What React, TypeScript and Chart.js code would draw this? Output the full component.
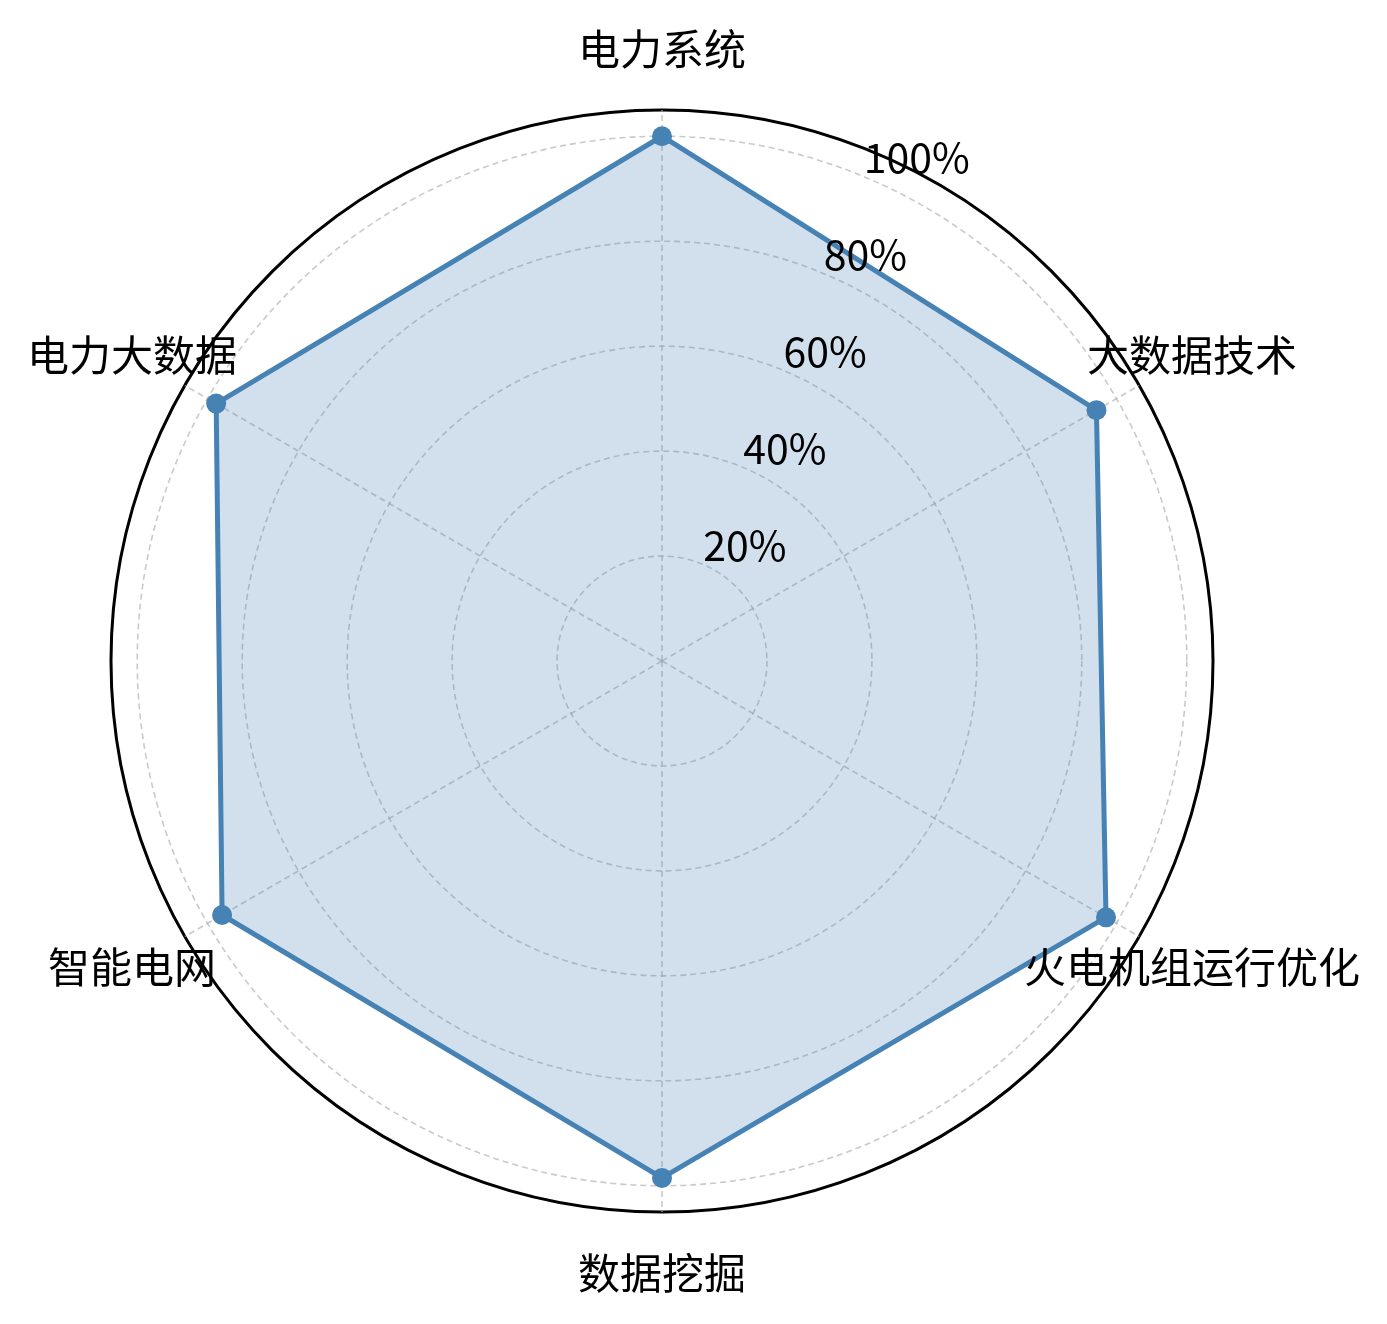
import { useEffect, useRef } from 'react';
import { Chart, registerables } from 'chart.js';

Chart.register(...registerables);

const categories = ['电力系统', '大数据技术', '火电机组运行优化', '数据挖掘', '智能电网', '电力大数据'];
const coverage = [100, 95.6, 97.7, 98.5, 96.8, 98.1];
const tickValues = [20, 40, 60, 80, 100];
const tickLabels = ['20%', '40%', '60%', '80%', '100%'];
const rMax = 105;
const labelRadiusValue = 116.6;

const FONT = '"Noto Sans CJK SC", "Noto Sans", sans-serif';

// matplotlib-ish polar decorations: r labels at 22.5deg, category labels centered outside
const polarText = {
  id: 'polarText',
  afterDraw(chart: Chart) {
    const scale: any = chart.scales.r;
    const ctx = chart.ctx;
    const ang = (22.5 * Math.PI) / 180;
    ctx.save();
    ctx.fillStyle = '#000';
    ctx.font = `41px ${FONT}`;
    ctx.textAlign = 'left';
    ctx.textBaseline = 'bottom';
    tickValues.forEach((v, i) => {
      const r = scale.getDistanceFromCenterForValue(v);
      const x = scale.xCenter + r * Math.sin(ang);
      const y = scale.yCenter - r * Math.cos(ang);
      ctx.fillText(tickLabels[i], x + 1, y + 2);
    });

    const dist = scale.getDistanceFromCenterForValue(labelRadiusValue);
    ctx.font = `42px ${FONT}`;
    ctx.textAlign = 'center';
    ctx.textBaseline = 'middle';
    categories.forEach((c, i) => {
      const p = scale.getPointPosition(i, dist);
      ctx.fillText(c, p.x, p.y);
    });
    ctx.restore();
  },
};

const RadarChart = () => {
  const canvasRef = useRef<HTMLCanvasElement | null>(null);

  useEffect(() => {
    if (!canvasRef.current) return;
    const ctx = canvasRef.current.getContext('2d');
    if (!ctx) return;

    const chart = new Chart(ctx, {
      type: 'radar',
      data: {
        labels: categories,
        datasets: [
          {
            data: coverage,
            borderColor: '#4682B4',
            backgroundColor: 'rgba(70, 130, 180, 0.25)',
            borderWidth: 5,
            fill: true,
            tension: 0,
            pointRadius: 10,
            pointBackgroundColor: '#4682B4',
            pointBorderWidth: 0,
          },
        ],
      },
      options: {
        responsive: false,
        animation: false,
        devicePixelRatio: 1,
        layout: { padding: { left: 111, right: 174, top: 110, bottom: 112 } },
        plugins: { legend: { display: false }, tooltip: { enabled: false } },
        scales: {
          r: {
            min: 0,
            max: rMax,
            startAngle: 0,
            afterBuildTicks: (scale: any) => {
              scale.ticks = [0, ...tickValues, rMax].map((v) => ({ value: v }));
            },
            ticks: { display: false },
            pointLabels: { display: false },
            grid: {
              circular: true,
              color: (c: any) => (c.tick && c.tick.value === rMax ? '#000' : 'rgba(180, 180, 180, 0.7)'),
              lineWidth: (c: any) => (c.tick && c.tick.value === rMax ? 3 : 1.6),
            },
            border: {
              dash: (c: any) => (c.tick && c.tick.value === rMax ? [] : [6, 4]),
            },
            angleLines: {
              color: 'rgba(180, 180, 180, 0.7)',
              lineWidth: 1.6,
              borderDash: [6, 4],
            },
          },
        },
      },
      plugins: [polarText],
    });

    return () => chart.destroy();
  }, []);

  return <canvas ref={canvasRef} width={1387} height={1324} style={{ width: 1387, height: 1324 }} />;
};

export default function App() {
  return (
    <div style={{ position: 'absolute', left: 0, top: 0, width: 1387, height: 1324, background: '#fff' }}>
      <RadarChart />
    </div>
  );
}
